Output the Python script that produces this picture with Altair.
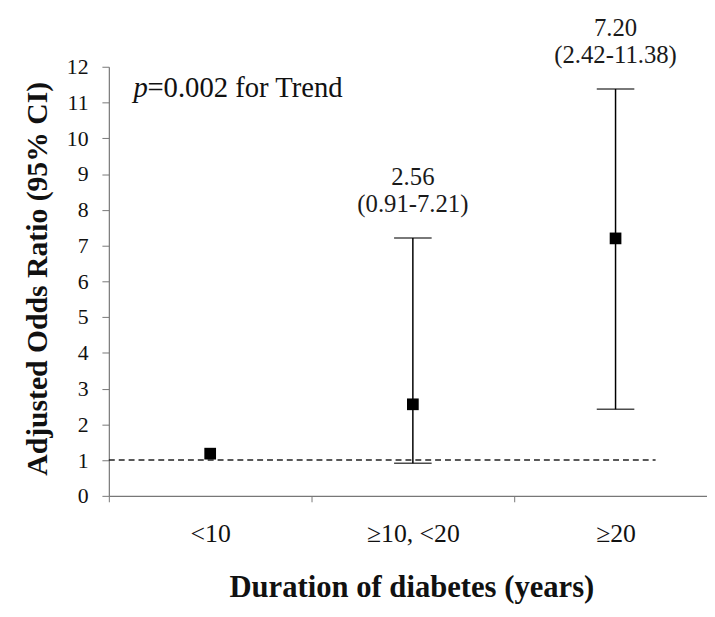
import altair as alt
import pandas as pd

categories = ["<10", "\u226510, <20", "\u226520"]
odds_ratio = [1.18, 2.56, 7.20]
ci_lower = [None, 0.91, 2.42]
ci_upper = [None, 7.21, 11.38]
or_labels = ["", "2.56", "7.20"]
ci_labels = ["", "(0.91-7.21)", "(2.42-11.38)"]
y_ticks = list(range(0, 13))
reference_value = 1

df = pd.DataFrame({
    "cat": categories,
    "or": odds_ratio,
    "lo": ci_lower,
    "hi": ci_upper,
    "orl": or_labels,
    "cil": ci_labels,
})
ci_df = df.dropna(subset=["lo", "hi"])

FONT = "Liberation Serif"

x_scale = alt.Scale(domain=categories, paddingInner=0, paddingOuter=0, range=[0, 615])
y_scale = alt.Scale(domain=[0, 12], nice=False, zero=True)

x_axis = alt.Axis(
    title="Duration of diabetes (years)",
    titleFont=FONT, titleFontSize=31, titleFontWeight="bold", titleColor="#111",
    titleBaseline="alphabetic", titleX=306, titleY=102,
    labelFont=FONT, labelFontSize=26, labelColor="#111", labelAngle=0,
    labelPadding=19, tickBand="extent", tickSize=6, tickColor="#777",
    domainColor="#777", domainWidth=1.2, grid=False,
)
y_axis = alt.Axis(
    title="Adjusted Odds Ratio (95% CI)",
    titleFont=FONT, titleFontSize=30, titleFontWeight="bold", titleColor="#111",
    titleAngle=-90, titleBaseline="alphabetic", titleAlign="center",
    titleX=-63, titleY=214,
    labelFont=FONT, labelFontSize=22, labelColor="#111", labelPadding=14,
    values=y_ticks, labelOverlap=False, tickSize=7, tickColor="#777",
    domainColor="#777", domainWidth=1.2, grid=False,
)

X = alt.X("cat:N", sort=categories, scale=x_scale, axis=x_axis)


def Y(field):
    return alt.Y(field, scale=y_scale, axis=y_axis)


points = alt.Chart(df).mark_square(size=140, color="black", opacity=1).encode(
    x=X,
    y=Y("or:Q"),
)

ref_line = alt.Chart(pd.DataFrame({"ref": [reference_value]})).mark_rule(
    color="#222", strokeDash=[6, 4], strokeWidth=1.5
).encode(
    y=Y("ref:Q"),
    x=alt.value(0),
    x2=alt.value(553),
)

ci = alt.Chart(ci_df)
bars = ci.mark_rule(color="black", strokeWidth=1.5).encode(
    x=X,
    y=Y("lo:Q"),
    y2="hi:Q",
)
cap_lo = ci.mark_tick(color="black", thickness=1.5, size=38, orient="horizontal").encode(
    x=X,
    y=Y("lo:Q"),
)
cap_hi = ci.mark_tick(color="black", thickness=1.5, size=38, orient="horizontal").encode(
    x=X,
    y=Y("hi:Q"),
)
txt_ci = ci.mark_text(font=FONT, fontSize=25, color="#1a1a1a", baseline="alphabetic", dy=-26).encode(
    x=X,
    y=Y("hi:Q"),
    text="cil:N",
)
txt_or = ci.mark_text(font=FONT, fontSize=25, color="#1a1a1a", baseline="alphabetic", dy=-54).encode(
    x=X,
    y=Y("hi:Q"),
    text="orl:N",
)

p_df = pd.DataFrame({"t1": ["p"], "t2": ["=0.002 for Trend"]})
p_italic = alt.Chart(p_df).mark_text(
    font=FONT, fontSize=29, fontStyle="italic", color="#111", align="left", baseline="alphabetic"
).encode(x=alt.value(25), y=alt.value(31), text="t1:N")
p_rest = alt.Chart(p_df).mark_text(
    font=FONT, fontSize=29, color="#111", align="left", baseline="alphabetic"
).encode(x=alt.value(39), y=alt.value(31), text="t2:N")

chart = alt.layer(
    points, ref_line, bars, cap_lo, cap_hi, txt_ci, txt_or, p_italic, p_rest
).properties(
    width=605, height=434,
    autosize=alt.AutoSizeParams(type="none"),
    padding={"left": 102, "top": 56, "right": 0, "bottom": 110},
    background="white",
).configure_view(
    stroke=None
).configure_axis(
    labelFont=FONT, labelColor="#111", titleFont=FONT
)

chart.save("out.html", embed_options={"renderer": "svg", "actions": False})
